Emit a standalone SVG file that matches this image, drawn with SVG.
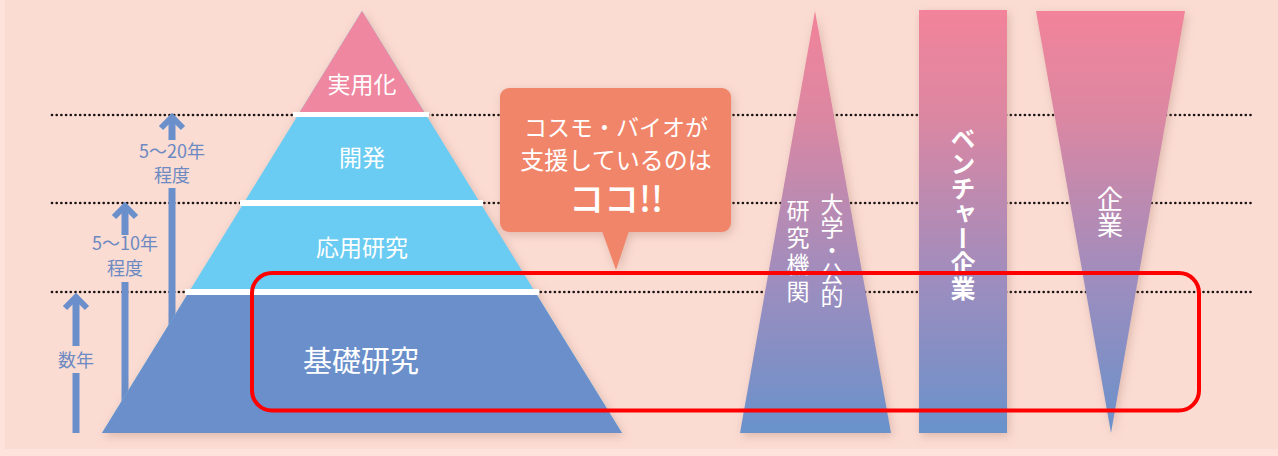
<svg xmlns="http://www.w3.org/2000/svg" width="1278" height="456" viewBox="0 0 1278 456">
<defs>
<style>
.jp{font-family:"Noto Sans CJK JP","Noto Sans",sans-serif;}
.wt{fill:#FFFFFF;}
.lbl{fill:#6C89C2;font-size:18px;text-anchor:middle;}
.dot{stroke:#1A1414;stroke-width:2.7;stroke-linecap:round;stroke-dasharray:0 4.7;fill:none;}
.shaft{stroke:#6A8FCB;stroke-width:7;fill:none;}
.head{stroke:#6A8FCB;stroke-width:6;fill:none;stroke-linejoin:miter;}
.bar{fill:#FFFFFF;}
.vt{writing-mode:vertical-rl;fill:#FFFFFF;}
</style>
<linearGradient id="grad" x1="0" y1="10" x2="0" y2="433" gradientUnits="userSpaceOnUse">
<stop offset="0" stop-color="#F2839A"/>
<stop offset="0.25" stop-color="#DC87A2"/>
<stop offset="0.45" stop-color="#BC8AB1"/>
<stop offset="0.66" stop-color="#9B8DBF"/>
<stop offset="1" stop-color="#6992CB"/>
</linearGradient>
<filter id="sh" x="-20%" y="-10%" width="140%" height="130%">
<feGaussianBlur in="SourceAlpha" stdDeviation="5"/>
<feOffset dx="2" dy="3" result="b"/>
<feFlood flood-color="#A8705F" flood-opacity="0.35"/>
<feComposite in2="b" operator="in"/>
<feMerge><feMergeNode/><feMergeNode in="SourceGraphic"/></feMerge>
</filter>
</defs>

<rect x="0" y="0" width="1278" height="456" fill="#FDE3DC"/>
<rect x="5" y="0" width="1273" height="449" fill="#FADCD3"/>

<g id="guides">
<line class="dot" x1="52" y1="115" x2="1252" y2="115"/>
<line class="dot" x1="52" y1="203" x2="1252" y2="203"/>
<line class="dot" x1="52" y1="292" x2="1252" y2="292"/>
</g>

<g id="connectors">
<line class="shaft" x1="76" y1="298" x2="76" y2="346"/>
<line class="shaft" x1="76" y1="373" x2="76" y2="433"/>
<polyline class="head" points="65,308 76,297 87,308"/>
<line class="shaft" x1="125" y1="207" x2="125" y2="235"/>
<line class="shaft" x1="125" y1="282" x2="125" y2="433"/>
<polyline class="head" points="114,217 125,206 136,217"/>
<line class="shaft" x1="172" y1="118" x2="172" y2="140"/>
<line class="shaft" x1="172" y1="188" x2="172" y2="433"/>
<polyline class="head" points="161,128 172,117 183,128"/>
</g>

<g id="labels-years" class="jp">
<text class="lbl" x="76" y="367" font-size="20">数年</text>
<text class="lbl" x="125" y="250">5〜10年</text>
<text class="lbl" x="125" y="275" font-size="19">程度</text>
<text class="lbl" x="172" y="158">5〜20年</text>
<text class="lbl" x="172" y="182" font-size="19">程度</text>
</g>

<g id="pyramid" filter="url(#sh)">
<polygon points="362,11 622,433 102,433" fill="#6ACCF2"/>
<polygon points="362,11 426,115 298,115" fill="#EF87A0"/>
<polygon points="189,292 535,292 622,433 102,433" fill="#6B8FCA"/>
<rect class="bar" x="293" y="112" width="136" height="5"/>
<rect class="bar" x="240" y="200" width="243" height="6"/>
<rect class="bar" x="185" y="289" width="354" height="6"/>
</g>
<g id="node-jitsuyouka" class="jp"><text class="wt" x="362" y="93" font-size="23" text-anchor="middle">実用化</text></g>
<g id="node-kaihatsu" class="jp"><text class="wt" x="362" y="166" font-size="23" text-anchor="middle">開発</text></g>
<g id="node-ouyou" class="jp"><text class="wt" x="362" y="256" font-size="23" text-anchor="middle">応用研究</text></g>
<g id="node-kiso" class="jp"><text class="wt" x="361" y="372" font-size="29" text-anchor="middle">基礎研究</text></g>

<g id="callout" filter="url(#sh)">
<rect x="500" y="88" width="231" height="144" rx="9" fill="#F1856B"/>
<polygon points="602,231 629,231 616,270" fill="#F1856B"/>
</g>
<g id="callout-text" class="jp wt" text-anchor="middle">
<text x="616" y="136" font-size="23">コスモ・バイオが</text>
<text x="616" y="169" font-size="24">支援しているのは</text>
<text x="616" y="212" font-size="35" font-weight="500">ココ!!</text>
</g>

<g id="node-university">
<polygon points="815,11 891,433 740,433" fill="url(#grad)" filter="url(#sh)"/>
<text class="jp vt" x="832" y="193" font-size="23">大学・公的</text>
<text class="jp vt" x="798" y="199" font-size="23" letter-spacing="4">研究機関</text>
</g>

<g id="node-venture">
<rect x="919" y="10" width="88" height="423" fill="url(#grad)" filter="url(#sh)"/>
<text class="jp vt" x="963" y="126" font-size="25" font-weight="700">ベンチャー企業</text>
</g>

<g id="node-company">
<polygon points="1036,11 1185,11 1111,433" fill="url(#grad)" filter="url(#sh)"/>
<text class="jp vt" x="1110" y="186" font-size="26">企業</text>
</g>

<g id="highlight">
<rect x="252" y="273" width="947" height="137.5" rx="20" fill="none" stroke="#FF0000" stroke-width="4"/>
</g>
</svg>
